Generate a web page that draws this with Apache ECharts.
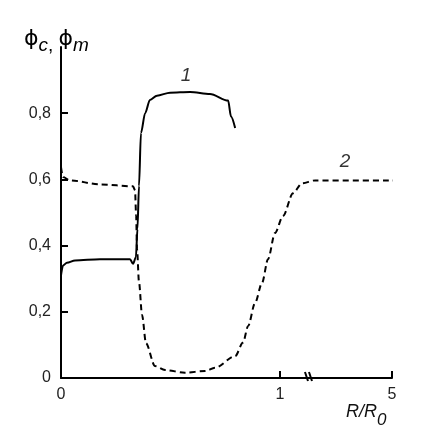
<!DOCTYPE html>
<html>
<head>
<meta charset="utf-8">
<script src="https://cdn.jsdelivr.net/npm/echarts@6/dist/echarts.min.js"></script>
<style>
  html, body { margin: 0; padding: 0; background: #fff; }
  #chart { width: 430px; height: 432px; }
</style>
</head>
<body>
<div id="chart"></div>
<script>
// x is drawn on a broken scale: 0..1 is R/R0, the tail after the break is squeezed up to 5
const xTickPos = [0, 1, 1.511];
const xTickText = ["0", "1", "5"];
const yTicks = [0, 0.2, 0.4, 0.6, 0.8];
const breakAt = 1.132;

// curve 1 (solid)
const curve1 = [
  [0, 0.31], [0.009, 0.34], [0.027, 0.348], [0.064, 0.355], [0.178, 0.359],
  [0.315, 0.359], [0.329, 0.345], [0.342, 0.365], [0.349, 0.45], [0.356, 0.58],
  [0.365, 0.74], [0.384, 0.80], [0.406, 0.84], [0.438, 0.853], [0.498, 0.862],
  [0.589, 0.864], [0.680, 0.858], [0.763, 0.838], [0.776, 0.79], [0.795, 0.755]
];

// curve 2 (dashed)
const curve2 = [
  [0, 0.637], [0.009, 0.607], [0.041, 0.597], [0.178, 0.585], [0.329, 0.579],
  [0.338, 0.567], [0.343, 0.49], [0.347, 0.39], [0.356, 0.29], [0.37, 0.19],
  [0.388, 0.105], [0.429, 0.036], [0.475, 0.024], [0.566, 0.016], [0.658, 0.021],
  [0.703, 0.031], [0.795, 0.066], [0.831, 0.107], [0.854, 0.157], [0.886, 0.227],
  [0.918, 0.288], [0.945, 0.359], [0.977, 0.438], [1.014, 0.49], [1.059, 0.558],
  [1.100, 0.588], [1.160, 0.597], [1.525, 0.597]
];

const curveLabels = [[0.571, 0.914, "1"], [1.297, 0.652, "2"]];

const FONT = "'Liberation Sans', Arial, sans-serif";
const PHI_FONT = "'DejaVu Sans', sans-serif";

const myChart = echarts.init(document.getElementById("chart"));

const option = {
  backgroundColor: "#fff",
  animation: false,
  grid: { left: 61, right: 38, top: 47, bottom: 54 },
  title: [
    {
      left: 19,
      top: 23,
      text: "{p|ϕ}{s|c}{k|, }{p|ϕ}{s|m}",
      textStyle: {
        fontWeight: "normal",
        rich: {
          p: { fontSize: 22, fontFamily: PHI_FONT, fontWeight: "normal", color: "#000", lineHeight: 27, verticalAlign: "top" },
          k: { fontSize: 19, fontFamily: FONT, fontWeight: "normal", color: "#000", lineHeight: 27, verticalAlign: "bottom" },
          s: { fontSize: 19, fontFamily: FONT, fontWeight: "normal", fontStyle: "italic", color: "#000", lineHeight: 27, verticalAlign: "bottom" }
        }
      }
    },
    {
      left: 341,
      top: 398,
      text: "{r|R/R}{s|0}",
      textStyle: {
        fontWeight: "normal",
        rich: {
          r: { fontSize: 18, fontFamily: FONT, fontWeight: "normal", fontStyle: "italic", color: "#111", lineHeight: 26, verticalAlign: "top" },
          s: { fontSize: 17, fontFamily: FONT, fontWeight: "normal", fontStyle: "italic", color: "#111", lineHeight: 26, verticalAlign: "bottom" }
        }
      }
    }
  ],
  xAxis: {
    type: "value",
    min: 0,
    max: xTickPos[xTickPos.length - 1],
    splitLine: { show: false },
    axisLine: { lineStyle: { color: "#000", width: 2 } },
    axisTick: {
      inside: true,
      length: 7,
      customValues: xTickPos.slice(1),
      lineStyle: { color: "#000", width: 2 }
    },
    axisLabel: {
      customValues: xTickPos,
      margin: 9,
      fontSize: 16,
      fontFamily: FONT,
      color: "#222",
      formatter: (v) => {
        const i = xTickPos.findIndex((p) => Math.abs(p - v) < 1e-6);
        return i >= 0 ? xTickText[i] : "";
      }
    }
  },
  yAxis: {
    type: "value",
    min: 0,
    max: 1,
    interval: 0.2,
    splitLine: { show: false },
    axisLine: { show: true, lineStyle: { color: "#000", width: 2 } },
    axisTick: {
      show: true,
      inside: true,
      length: 7,
      customValues: yTicks.slice(1),
      lineStyle: { color: "#000", width: 2 }
    },
    axisLabel: {
      customValues: yTicks,
      margin: 10,
      fontSize: 16,
      fontFamily: FONT,
      color: "#222",
      formatter: (v) => (v === 0 ? "0" : v.toFixed(1).replace(".", ","))
    }
  },
  series: [
    {
      name: "1",
      type: "line",
      data: curve1,
      showSymbol: false,
      smooth: 0.3,
      smoothMonotone: "x",
      lineStyle: { color: "#000", width: 2 },
      z: 3
    },
    {
      name: "2",
      type: "line",
      data: curve2,
      showSymbol: false,
      smooth: 0.3,
      smoothMonotone: "x",
      clip: false,
      lineStyle: { color: "#000", width: 2, type: [6, 4] },
      z: 3
    },
    {
      name: "labels",
      type: "scatter",
      data: curveLabels,
      symbolSize: 0,
      label: {
        show: true,
        position: "inside",
        formatter: (p) => p.data[2],
        fontSize: 19,
        fontStyle: "italic",
        fontFamily: FONT,
        color: "#000"
      }
    }
  ]
};

myChart.setOption(option);

// axis break mark "\\"
const bp = myChart.convertToPixel({ gridIndex: 0 }, [breakAt, 0]);
myChart.setOption({
  graphic: [
    {
      type: "line",
      shape: { x1: bp[0] - 4, y1: bp[1] - 6, x2: bp[0] - 1, y2: bp[1] + 3 },
      style: { stroke: "#000", lineWidth: 2 }
    },
    {
      type: "line",
      shape: { x1: bp[0], y1: bp[1] - 6, x2: bp[0] + 3, y2: bp[1] + 3 },
      style: { stroke: "#000", lineWidth: 2 }
    }
  ]
});
</script>
</body>
</html>
